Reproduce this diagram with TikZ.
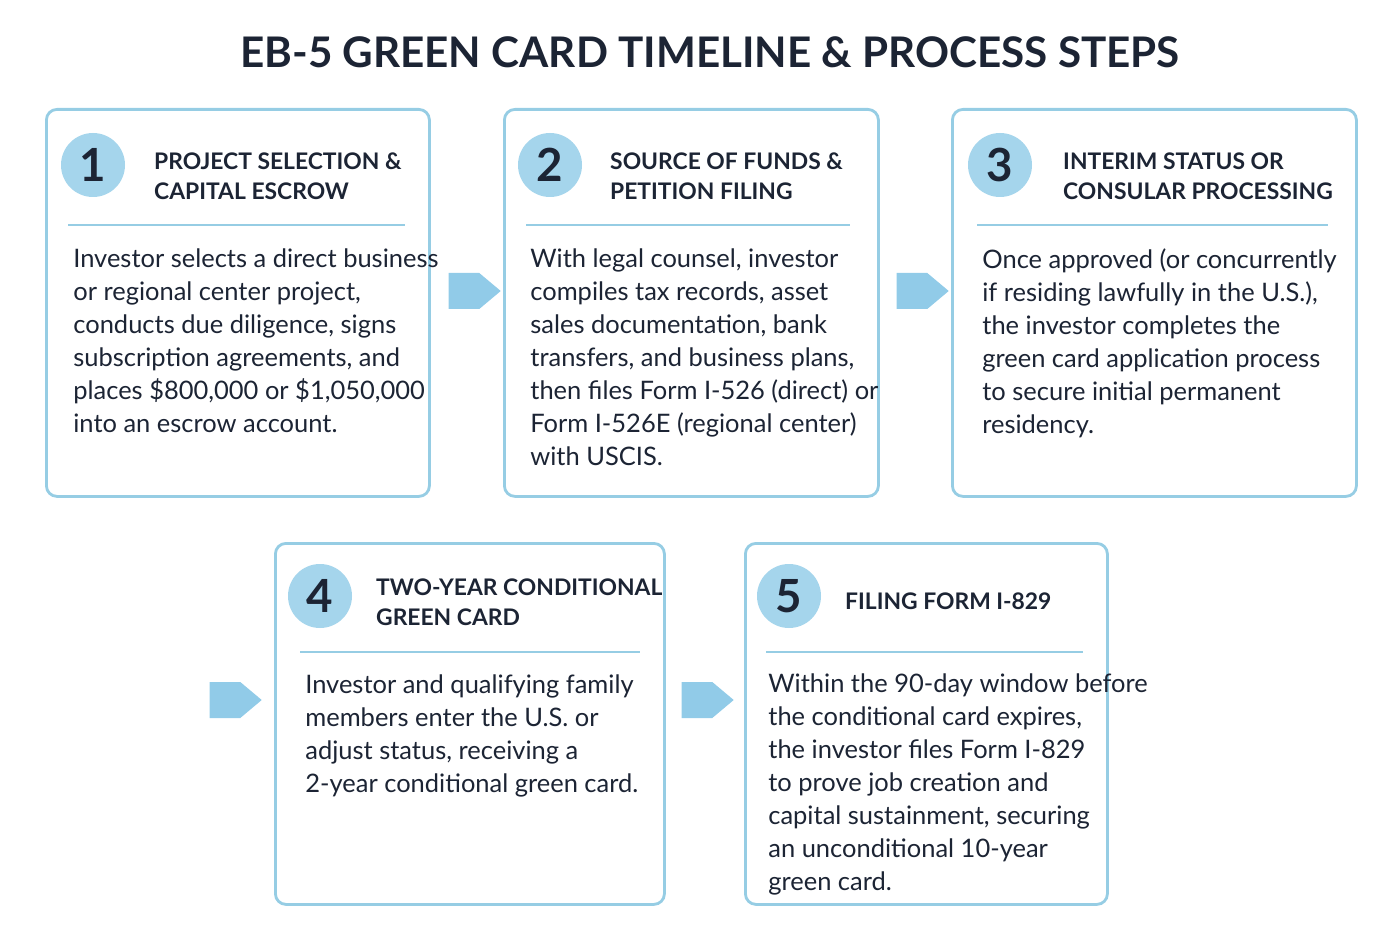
\documentclass[tikz,border=0pt]{standalone}
\usepackage{fontspec}
\setmainfont{Lato}
\usetikzlibrary{shapes,positioning,calc,arrows.meta}
\definecolor{edge}{RGB}{150,205,228}
\definecolor{disc}{RGB}{165,213,236}
\definecolor{ink}{RGB}{28,36,52}
\definecolor{flow}{RGB}{145,203,232}
\newcommand\pxu{*0.02cm}
\tikzset{
  stepbox/.style={draw=edge, line width=1.6pt, rounded corners=6pt, anchor=north west, fill=white},
  num/.style={circle, fill=disc, minimum size=64\pxu, inner sep=0pt, font=\fontsize{26}{26}\selectfont\bfseries, text=ink},
  head/.style={anchor=west, align=left, font=\fontsize{13}{17}\selectfont\bfseries, text=ink},
  body/.style={anchor=north west, align=left, inner sep=0pt, font=\fontsize{14.5}{18.8}\selectfont, text=ink},
  flowarrow/.style={single arrow, fill=flow, draw=none, minimum width=36\pxu, single arrow head extend=0pt, minimum height=52\pxu, inner sep=2pt, single arrow tip angle=80}
}
\begin{document}
\begin{tikzpicture}[x=0.02cm,y=-0.02cm]
\useasboundingbox (0,0) rectangle (1400,939);

\node[font=\fontsize{24}{28}\selectfont\bfseries, text=ink] (title) at (710,52) {EB-5 GREEN CARD TIMELINE \& PROCESS STEPS};

% step boxes
\node[stepbox, minimum width=383\pxu, minimum height=387\pxu] (box1) at (45,108) {};
\node[stepbox, minimum width=374\pxu, minimum height=387\pxu] (box2) at (503,108) {};
\node[stepbox, minimum width=404\pxu, minimum height=387\pxu] (box3) at (951,108) {};
\node[stepbox, minimum width=389\pxu, minimum height=361\pxu] (box4) at (274,542) {};
\node[stepbox, minimum width=362\pxu, minimum height=361\pxu] (box5) at (744,542) {};

% step 1
\node[num] (n1) at (93,165) {1};
\node[head] (h1) at (148,176) {PROJECT SELECTION \&\\CAPITAL ESCROW};
\draw[edge, line width=1.3pt] (68,225) -- (405,225);
\node[body] (t1) at (73,248) {Investor selects a direct business\\or regional center project,\\conducts due diligence, signs\\subscription agreements, and\\places \$800,000 or \$1,050,000\\into an escrow account.};

% step 2
\node[num] (n2) at (550,165) {2};
\node[head] (h2) at (604,176) {SOURCE OF FUNDS \&\\PETITION FILING};
\draw[edge, line width=1.3pt] (526,225) -- (850,225);
\node[body] (t2) at (530,248) {With legal counsel, investor\\compiles tax records, asset\\sales documentation, bank\\transfers, and business plans,\\then files Form I-526 (direct) or\\Form I-526E (regional center)\\with USCIS.};

% step 3
\node[num] (n3) at (1000,165) {3};
\node[head] (h3) at (1057,176) {INTERIM STATUS OR\\CONSULAR PROCESSING};
\draw[edge, line width=1.3pt] (977,225) -- (1328,225);
\node[body] (t3) at (982,248) {Once approved (or concurrently\\if residing lawfully in the U.S.),\\the investor completes the\\green card application process\\to secure initial permanent\\residency.};

% step 4
\node[num] (n4) at (320,596) {4};
\node[head] (h4) at (370,602) {TWO-YEAR CONDITIONAL\\GREEN CARD};
\draw[edge, line width=1.3pt] (300,652) -- (640,652);
\node[body] (t4) at (305,674) {Investor and qualifying family\\members enter the U.S. or\\adjust status, receiving a\\2-year conditional green card.};

% step 5
\node[num] (n5) at (789,596) {5};
\node[head] (h5) at (839,601) {FILING FORM I-829};
\draw[edge, line width=1.3pt] (766,652) -- (1083,652);
\node[body] (t5) at (768,673) {Within the 90-day window before\\the conditional card expires,\\the investor files Form I-829\\to prove job creation and\\capital sustainment, securing\\an unconditional 10-year\\green card.};

% flow arrows
\node[flowarrow] (a12) at (464,291) {};
\node[flowarrow] (a23) at (912,291) {};
\node[flowarrow] (a34) at (225,700) {};
\node[flowarrow] (a45) at (697,700) {};
\end{tikzpicture}
\end{document}
